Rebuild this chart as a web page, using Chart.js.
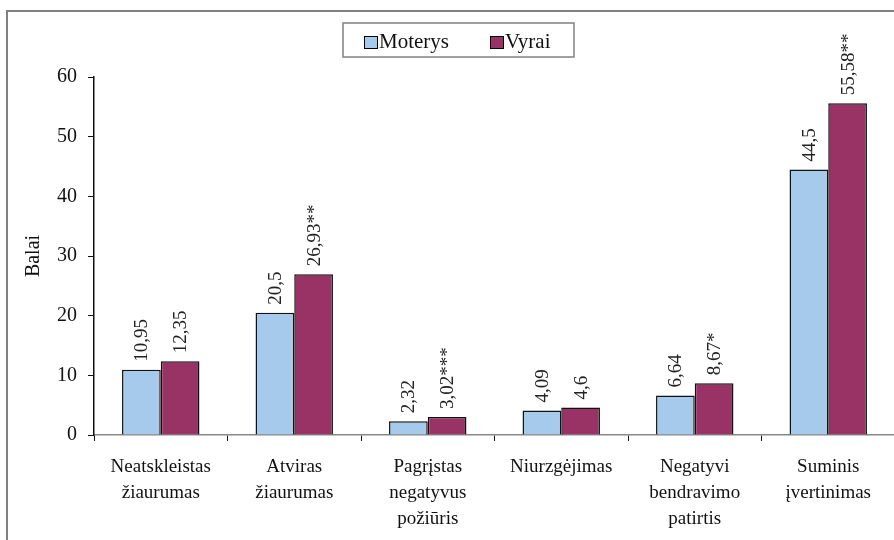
<!DOCTYPE html>
<html>
<head>
<meta charset="utf-8">
<script src="https://cdn.jsdelivr.net/npm/chart.js@4/dist/chart.umd.min.js"></script>
<style>
html,body{margin:0;padding:0;background:#fff;overflow:hidden;}
#wrap{width:900px;height:540px;}
</style>
</head>
<body>
<div id="wrap"><canvas id="c" width="900" height="540"></canvas></div>
<script>
const categories = [
  ['Neatskleistas','žiaurumas'],
  ['Atviras','žiaurumas'],
  ['Pagrįstas','negatyvus','požiūris'],
  ['Niurzgėjimas'],
  ['Negatyvi','bendravimo','patirtis'],
  ['Suminis','įvertinimas']
];
const seriesNames = ['Moterys','Vyrai'];
const moterys = [10.95, 20.5, 2.32, 4.09, 6.64, 44.5];
const vyrai = [12.35, 26.93, 3.02, 4.6, 8.67, 55.58];
const moterysMarks = ['', '', '', '', '', ''];
const vyraiMarks = ['', '**', '***', '', '*', '**'];
const yTicks = [0, 10, 20, 30, 40, 50, 60];
const colors = ['#A6CAEC', '#993366'];

const SERIF = '"Liberation Serif", "Times New Roman", serif';

function fmt(v) { return String(v).replace('.', ','); }

const framePlugin = {
  id: 'frame',
  beforeDraw(chart) {
    const ctx = chart.ctx;
    ctx.save();
    ctx.strokeStyle = '#808080';
    ctx.lineWidth = 2;
    ctx.beginPath();
    ctx.moveTo(7, 545);
    ctx.lineTo(7, 11);
    ctx.lineTo(905, 11);
    ctx.stroke();
    ctx.restore();
  },
  afterDraw(chart) {
    const ctx = chart.ctx;
    ctx.save();
    // legend frame
    ctx.strokeStyle = '#808080';
    ctx.lineWidth = 1.5;
    ctx.strokeRect(343, 23, 231, 34);
    const items = [
      {bx: 364, tx: 379},
      {bx: 490, tx: 505}
    ];
    ctx.font = '21px ' + SERIF;
    ctx.textBaseline = 'middle';
    ctx.textAlign = 'left';
    chart.data.datasets.forEach((ds, i) => {
      const it = items[i];
      ctx.fillStyle = ds.backgroundColor;
      ctx.fillRect(it.bx, 36, 13, 12);
      ctx.strokeStyle = '#000';
      ctx.lineWidth = 1;
      ctx.strokeRect(it.bx + 0.5, 36.5, 13, 12);
      ctx.fillStyle = '#111';
      ctx.fillText(ds.label, it.tx, 42);
    });
    // value labels
    ctx.font = '19px ' + SERIF;
    ctx.fillStyle = '#222';
    chart.data.datasets.forEach((ds, i) => {
      const meta = chart.getDatasetMeta(i);
      meta.data.forEach((bar, j) => {
        const txt = fmt(ds.data[j]) + ds.marks[j];
        ctx.save();
        ctx.translate(bar.x, bar.y - 8);
        ctx.rotate(-Math.PI / 2);
        ctx.textAlign = 'left';
        ctx.textBaseline = 'middle';
        ctx.fillText(txt, 0, 1);
        ctx.restore();
      });
    });
    ctx.restore();
  }
};

new Chart(document.getElementById('c'), {
  type: 'bar',
  data: {
    labels: categories,
    datasets: [
      {label: seriesNames[0], data: moterys, marks: moterysMarks, backgroundColor: colors[0], borderColor: '#111', borderWidth: 1.5},
      {label: seriesNames[1], data: vyrai, marks: vyraiMarks, backgroundColor: colors[1], borderColor: '#111', borderWidth: 1.5}
    ]
  },
  options: {
    responsive: false,
    animation: false,
    devicePixelRatio: 1,
    layout: {padding: {top: 77, left: 8, right: 5, bottom: 0}},
    plugins: {legend: {display: false}, tooltip: {enabled: false}},
    datasets: {bar: {categoryPercentage: 0.58, barPercentage: 1.0}},
    scales: {
      x: {
        offset: true,
        grid: {offset: true, drawOnChartArea: false, tickLength: 6, color: '#111', tickColor: '#111'},
        border: {color: '#888', width: 1.5},
        ticks: {font: {family: SERIF, size: 19, lineHeight: 1.37}, color: '#111', padding: 13, maxRotation: 0, autoSkip: false},
        afterFit(scale) { scale.height = 105; }
      },
      y: {
        min: 0, max: 60,
        afterBuildTicks(scale) { scale.ticks = yTicks.map(v => ({value: v})); },
        grid: {drawOnChartArea: false, tickLength: 6, tickColor: '#111'},
        border: {color: '#111', width: 1.5},
        ticks: {font: {family: SERIF, size: 20}, color: '#111', padding: 11},
        title: {display: true, text: 'Balai', font: {family: SERIF, size: 20}, color: '#111', padding: {top: 14, bottom: 0}},
        afterFit(scale) { scale.width = 86; }
      }
    }
  },
  plugins: [framePlugin]
});
</script>
</body>
</html>
